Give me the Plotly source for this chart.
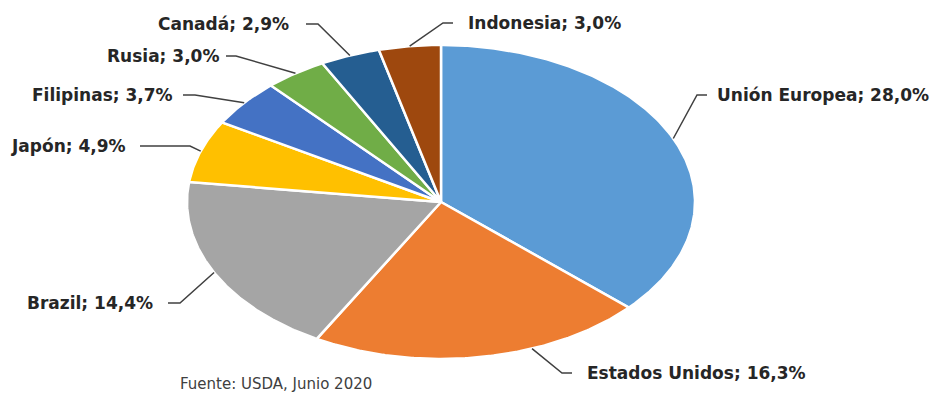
import numpy as np
import plotly.graph_objects as go

# Importing markets share (clockwise from 12 o'clock)
countries = ["Unión Europea", "Estados Unidos", "Brazil", "Japón",
             "Filipinas", "Rusia", "Canadá", "Indonesia"]
shares = [28.0, 16.3, 14.4, 4.9, 3.7, 3.0, 2.9, 3.0]
colors = ["#5B9BD5", "#ED7D31", "#A5A5A5", "#FFC000",
          "#4472C4", "#70AD47", "#255E91", "#9E480E"]
source_note = "Fuente: USDA, Junio 2020"

W, H = 934, 396
CX, CY = 441, 202      # pie centre (px)
RX, RY = 254, 157      # horizontal / vertical radii (px)

# label placement: (x, y, anchor, elbow x, text-side x, attach angle override in degrees)
label_layout = {
    "Unión Europea":  (715, 95, "left", 697, 707, None),
    "Estados Unidos": (585, 373, "left", 562, 572, 159),
    "Brazil":         (155, 303, "right", 180, 168, None),
    "Japón":          (128, 146, "right", 190, 140, None),
    "Filipinas":      (175, 95, "right", 195, 183, None),
    "Rusia":          (221, 56, "right", 236, 226, None),
    "Canadá":         (291, 24, "right", 318, 306, None),
    "Indonesia":      (466, 23, "left", 443, 453, None),
}


def ellipse_point(theta_deg):
    t = np.radians(theta_deg)
    return CX + RX * np.sin(t), CY - RY * np.cos(t)


def fmt_pct(v):
    return f"{v:.1f}".replace(".", ",") + "%"


fig = go.Figure()
total = sum(shares)
start = 0.0
for name, val, col in zip(countries, shares, colors):
    a0 = start / total * 360
    a1 = (start + val) / total * 360
    ang = np.linspace(a0, a1, max(8, int((a1 - a0) * 2)))
    px, py = ellipse_point(ang)
    xs = np.concatenate([[CX], px, [CX]])
    ys = np.concatenate([[CY], py, [CY]])
    fig.add_trace(go.Scatter(
        x=xs, y=ys, mode="lines", fill="toself", fillcolor=col,
        line=dict(color="white", width=2.5), hoverinfo="text",
        text=f"{name}; {fmt_pct(val)}", showlegend=False,
    ))

    # leader line from the slice edge to its label
    lx, ly, anchor, ex, tx, override = label_layout[name]
    mid = override if override is not None else (a0 + a1) / 2
    sx, sy = ellipse_point(mid)
    fig.add_trace(go.Scatter(
        x=[sx, ex, tx], y=[sy, ly, ly], mode="lines",
        line=dict(color="#404040", width=1.5), hoverinfo="skip",
        showlegend=False,
    ))
    fig.add_annotation(
        x=lx, y=ly, xref="x", yref="y", text=f"<b>{name}; {fmt_pct(val)}</b>",
        showarrow=False, xanchor=anchor, yanchor="middle",
        font=dict(family="DejaVu Sans", size=17, color="#262626"),
    )
    start += val

fig.add_annotation(
    x=178, y=384, xref="x", yref="y", text=source_note, showarrow=False,
    xanchor="left", yanchor="middle",
    font=dict(family="DejaVu Sans", size=15, color="#404040"),
)

fig.update_xaxes(range=[0, W], visible=False, fixedrange=True)
fig.update_yaxes(range=[H, 0], visible=False, fixedrange=True)
fig.update_layout(
    width=W, height=H, margin=dict(l=0, r=0, t=0, b=0),
    paper_bgcolor="white", plot_bgcolor="white",
)

fig.write_html("out.html")
